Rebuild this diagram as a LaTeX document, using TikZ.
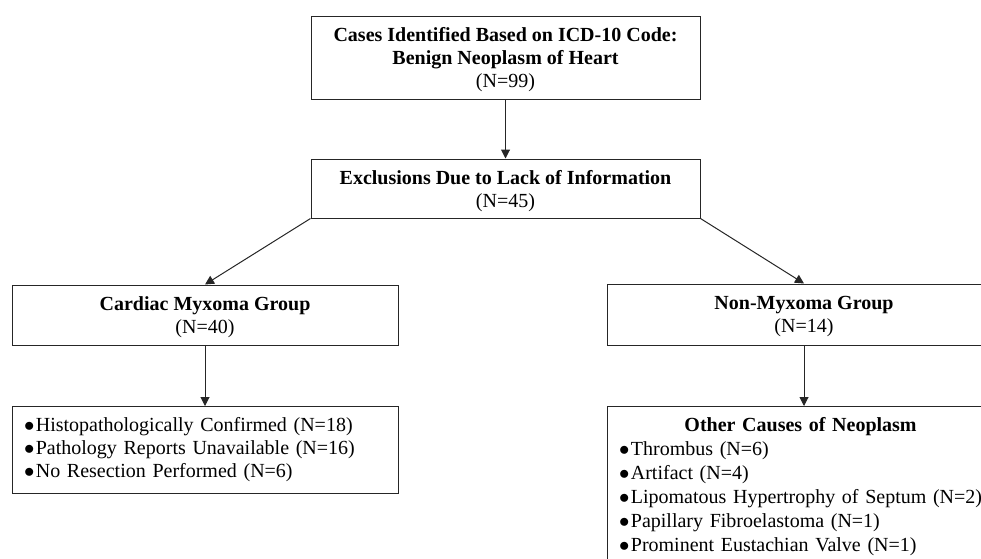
\documentclass[tikz,border=0pt]{standalone}
\usepackage{fontspec}
\setmainfont{Liberation Serif}
\usetikzlibrary{arrows.meta}

\newcommand{\itm}{$\bullet$\hspace{1.5pt}}

\begin{document}
\begin{tikzpicture}
  [x=1pt,y=-1pt,line width=1pt,
   every node/.style={draw=black!85,rectangle,inner sep=0pt,font=\fontsize{20}{23}\selectfont,align=center},
   box/.style={text depth=0pt},
   listbox/.style={anchor=north,align=left,inner xsep=12pt,inner ysep=8pt},
   arr/.style={-{Triangle[length=9pt,width=9pt]},black!85}]

  \useasboundingbox (0,0) rectangle (981,558);
  \clip (0,0) rectangle (981,558);

  \node[box,minimum width=389pt,minimum height=83pt] (cases) at (505.5,57.5)
    {\textbf{Cases Identified Based on ICD-10 Code:}\\\textbf{Benign Neoplasm of Heart}\\(N=99)};
  \node[box,minimum width=389pt,minimum height=59pt] (excl) at (505.5,188.5)
    {\textbf{Exclusions Due to Lack of Information}\\(N=45)};
  \node[box,minimum width=386pt,minimum height=60pt] (cardiac) at (205,315)
    {\textbf{Cardiac Myxoma Group}\\(N=40)};
  \node[box,minimum width=394pt,minimum height=61pt] (nonmyx) at (804,314.5)
    {\textbf{Non-Myxoma Group}\\(N=14)};
  \node[listbox,text width=362pt,minimum height=87pt] (hist) at (205,406)
    {\itm Histopathologically Confirmed (N=18)\\\itm Pathology Reports Unavailable (N=16)\\\itm No Resection Performed (N=6)};
  \node[listbox,text width=370pt,font=\fontsize{20}{24}\selectfont] (other) at (804,406)
    {\begin{tabular}{@{}l@{}}
       \multicolumn{1}{c}{\textbf{Other Causes of Neoplasm}}\\
       \itm Thrombus (N=6)\\
       \itm Artifact (N=4)\\
       \itm Lipomatous Hypertrophy of Septum (N=2)\\
       \itm Papillary Fibroelastoma (N=1)\\
       \itm Prominent Eustachian Valve (N=1)
     \end{tabular}};

  \foreach \from/\to in
  {cases/excl,excl.south west/cardiac.north,excl.south east/nonmyx.north,cardiac/hist,nonmyx/other}
    \draw[arr] (\from) -- (\to);
\end{tikzpicture}
\end{document}
